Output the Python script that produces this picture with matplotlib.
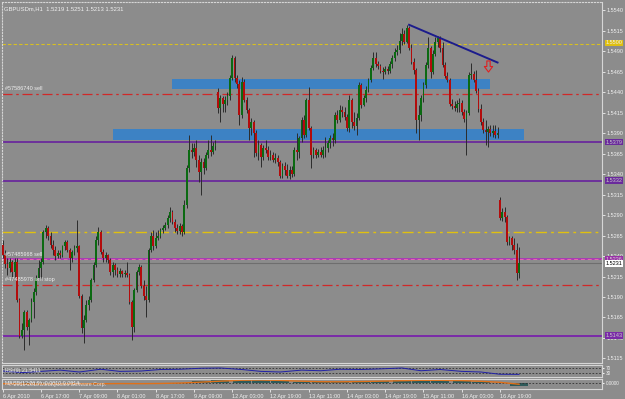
import numpy as np
import matplotlib.pyplot as plt
from matplotlib.path import Path
from matplotlib.patches import Rectangle
import matplotlib.transforms as mtransforms

plt.rcParams['font.family'] = ['Liberation Sans', 'DejaVu Sans']

# GBPUSDm H1 bars, prices as pips above 1.5000
opens_pips = [253, 241, 230, 225, 233, 220, 233, 186, 143, 150, 172, 153, 162, 184, 196, 213, 225, 233, 269, 274,
              264, 253, 247, 240, 244, 241, 252, 257, 247, 237, 245, 250, 252, 191, 152, 162, 180, 186, 211, 229,
              259, 269, 245, 237, 241, 235, 220, 229, 223, 218, 222, 218, 219, 217, 184, 154, 198, 220, 226, 204,
              191, 186, 247, 264, 252, 262, 264, 272, 274, 278, 286, 294, 281, 274, 270, 276, 269, 302, 347, 369,
              367, 372, 357, 342, 355, 347, 363, 369, 367, 374, 440, 420, 433, 425, 430, 435, 457, 481, 457, 450,
              412, 452, 430, 418, 396, 403, 390, 366, 375, 361, 372, 369, 361, 363, 357, 359, 355, 338, 350, 345,
              338, 345, 340, 369, 367, 384, 406, 387, 430, 396, 363, 369, 363, 367, 363, 369, 372, 378, 384, 381,
              412, 406, 418, 416, 409, 396, 430, 403, 398, 408, 449, 424, 433, 442, 455, 469, 481, 474, 472, 466,
              464, 468, 466, 474, 481, 489, 491, 502, 511, 501, 518, 494, 477, 467, 406, 412, 433, 449, 473, 494,
              464, 486, 501, 506, 494, 473, 459, 455, 425, 423, 420, 425, 427, 416, 407, 414, 461, 462, 455, 441,
              419, 403, 394, 391, 395, 390, 392, 387, 308, 286, 294, 287, 257, 262, 253, 247, 219]
closes_pips = [241, 230, 225, 233, 220, 233, 186, 143, 150, 172, 153, 162, 184, 196, 213, 225, 233, 269, 274, 264,
               253, 247, 240, 244, 241, 252, 257, 247, 237, 245, 250, 252, 191, 152, 162, 180, 186, 211, 229, 259,
               269, 245, 237, 241, 235, 220, 229, 223, 218, 222, 218, 219, 217, 184, 154, 198, 220, 226, 204, 191,
               186, 247, 264, 252, 262, 264, 272, 274, 278, 286, 294, 281, 274, 270, 276, 269, 302, 347, 369, 367,
               372, 357, 342, 355, 347, 363, 369, 367, 374, 376, 420, 433, 425, 430, 435, 457, 481, 457, 450, 412,
               452, 430, 418, 396, 403, 390, 366, 375, 361, 372, 369, 361, 363, 357, 359, 355, 338, 350, 345, 338,
               345, 340, 369, 367, 384, 406, 387, 430, 396, 363, 369, 363, 367, 363, 369, 372, 378, 384, 381, 412,
               406, 418, 416, 409, 396, 430, 403, 398, 408, 449, 424, 433, 442, 455, 469, 481, 474, 472, 466, 464,
               468, 466, 474, 481, 489, 491, 502, 511, 501, 518, 494, 477, 467, 406, 412, 433, 449, 473, 494, 464,
               486, 501, 506, 494, 473, 459, 455, 425, 423, 420, 425, 427, 416, 407, 414, 461, 462, 455, 441, 419,
               403, 394, 391, 395, 390, 392, 387, 390, 286, 294, 287, 257, 262, 253, 247, 219, 231]
highs_pips = [259, 247, 237, 237, 235, 237, 237, 189, 158, 174, 174, 164, 189, 201, 217, 235, 237, 272, 278, 276,
              269, 259, 252, 247, 247, 254, 259, 259, 250, 247, 253, 284, 254, 194, 168, 186, 191, 213, 233, 264,
              275, 272, 248, 245, 242, 237, 233, 231, 226, 225, 223, 223, 233, 219, 186, 201, 223, 230, 229, 211,
              204, 250, 269, 272, 269, 272, 274, 278, 281, 290, 300, 296, 285, 279, 280, 279, 308, 351, 387, 378,
              378, 381, 363, 359, 359, 367, 381, 387, 379, 381, 445, 436, 435, 435, 440, 461, 485, 484, 461, 455,
              458, 456, 434, 420, 408, 406, 394, 381, 378, 375, 381, 374, 369, 367, 366, 363, 357, 353, 355, 352,
              350, 350, 373, 390, 386, 409, 412, 433, 446, 398, 373, 372, 370, 373, 374, 385, 381, 387, 390, 416,
              418, 424, 423, 422, 413, 436, 433, 416, 414, 452, 451, 436, 447, 457, 473, 489, 489, 478, 474, 470,
              472, 472, 478, 485, 494, 497, 512, 518, 516, 522, 520, 498, 481, 469, 424, 436, 452, 477, 507, 496,
              491, 507, 508, 508, 501, 477, 464, 457, 431, 429, 430, 433, 430, 419, 418, 464, 475, 466, 467, 445,
              425, 408, 406, 398, 400, 400, 400, 397, 312, 298, 300, 290, 264, 265, 262, 256, 251]
lows_pips = [237, 225, 217, 220, 214, 215, 184, 140, 140, 125, 150, 131, 159, 164, 192, 211, 213, 230, 262, 259,
             250, 241, 235, 237, 237, 239, 247, 245, 223, 233, 241, 245, 189, 146, 134, 159, 174, 184, 208, 226,
             253, 242, 233, 233, 231, 217, 215, 217, 214, 214, 215, 215, 214, 181, 137, 147, 196, 217, 201, 186,
             165, 184, 245, 247, 250, 259, 262, 268, 272, 274, 281, 279, 269, 267, 267, 265, 267, 298, 342, 359,
             362, 348, 330, 314, 340, 345, 359, 362, 364, 369, 414, 403, 416, 416, 424, 430, 455, 452, 445, 400,
             408, 428, 414, 381, 387, 361, 362, 357, 348, 357, 366, 357, 357, 355, 353, 350, 335, 335, 339, 335,
             334, 336, 338, 357, 359, 379, 384, 385, 394, 347, 359, 359, 361, 361, 359, 361, 367, 372, 374, 378,
             402, 403, 409, 406, 392, 391, 396, 394, 387, 406, 420, 423, 428, 440, 452, 467, 470, 468, 463, 456,
             462, 462, 463, 469, 478, 485, 488, 497, 498, 500, 491, 474, 462, 390, 381, 405, 428, 445, 469, 457,
             462, 484, 495, 489, 470, 457, 452, 423, 419, 417, 416, 416, 412, 403, 363, 412, 456, 452, 439, 416,
             400, 390, 375, 373, 386, 385, 384, 384, 284, 283, 281, 254, 253, 247, 242, 211, 213]

# RSI(9) and MACD readings at sampled bars
ind_idx = [0, 8, 16, 24, 32, 41, 49, 58, 66, 74, 83, 91, 100, 108, 116, 125, 133, 141, 150, 158, 167, 175,
           183, 192, 200, 208, 216]
rsi_vals = [48, 35, 45, 55, 40, 62, 45, 48, 60, 62, 70, 72, 60, 45, 40, 55, 50, 62, 60, 65, 72, 50, 60, 45,
            40, 22, 21]
macd_hist = [-5, -10, -8, -3, -6, -4, -2, -5, 0, 5, 20, 30, 40, 35, 25, 15, 12, 15, 20, 25, 30, 35, 30, 25,
             15, 5, -25]
macd_signal = [-4, -7, -8, -6, -5, -5, -3, -4, -2, 2, 12, 22, 32, 34, 30, 22, 16, 15, 18, 22, 27, 31, 31, 28,
               21, 10, -10]

time_labels = ['6 Apr 2010', '6 Apr 17:00', '7 Apr 09:00', '8 Apr 01:00', '8 Apr 17:00', '9 Apr 09:00',
               '12 Apr 03:00', '12 Apr 19:00', '13 Apr 11:00', '14 Apr 03:00', '14 Apr 19:00', '15 Apr 11:00',
               '16 Apr 03:00', '16 Apr 19:00']
label_step = 16

price_ticks = [1.5115, 1.5140, 1.5165, 1.5190, 1.5215, 1.5240, 1.5265, 1.5290, 1.5315, 1.5340, 1.5365,
               1.5390, 1.5415, 1.5440, 1.5465, 1.5490, 1.5515, 1.5540]

# horizontal levels
hl_prices = [1.5499, 1.5269, 1.5438, 1.5379, 1.5332, 1.5236, 1.5231, 1.5205, 1.5143]
hl_colors = ['#d8c020', '#e0c010', '#d02828', '#6a2a9c', '#6a2a9c', '#a83cb4', '#6e6e6e', '#d02828', '#7a2aa8']
hl_styles = [(0, (3, 2)), (0, (8, 3, 2, 3)), (0, (8, 3, 2, 3)), '-', '-', '-', '-', (0, (8, 3, 2, 3)), '-']
hl_widths = [0.8, 1.0, 0.9, 1.3, 1.3, 1.4, 0.8, 0.9, 1.4]

order_labels = ['#57586740 sell', '#57485968 sell', '#47485978 sell stop']
order_prices = [1.5438, 1.5236, 1.5205]

tag_prices = [1.5500, 1.5379, 1.5332, 1.5236, 1.5231, 1.5143]
tag_bg = ['#e0c010', '#6a2a9c', '#6a2a9c', '#9a30a8', '#ffffff', '#7a2aa8']
tag_fg = ['#f0f0f0', '#c8c8c8', '#c8c8c8', '#d0d0d0', '#000000', '#c8c8c8']

# blue zones: left bar, right bar, low price, high price
zone_left = [71, 46]
zone_right = [204, 218]
zone_low = [1.5444, 1.5381]
zone_high = [1.5456, 1.5395]

trend_idx = [170, 207]
trend_price = [1.5522, 1.5476]
arrow_idx = 203
arrow_price = 1.5472

bg = '#8c8c8c'
W, H = 625, 399
fig = plt.figure(figsize=(W / 100, H / 100), dpi=100, facecolor=bg)


def px_axes(x0, y0, x1, y1):
    a = fig.add_axes([x0 / W, 1 - y1 / H, (x1 - x0) / W, (y1 - y0) / H])
    a.set_facecolor(bg)
    for s in a.spines.values():
        s.set_color('#d6d6d6')
        s.set_linewidth(0.8)
    return a


o = 1.5 + np.array(opens_pips) / 1e4
c = 1.5 + np.array(closes_pips) / 1e4
h = 1.5 + np.array(highs_pips) / 1e4
l = 1.5 + np.array(lows_pips) / 1e4
idx = np.arange(len(c))
xlim = (-0.3, 250.7)

ax = px_axes(2, 2, 602, 363)
ax.spines['top'].set_linestyle(':')
ax.spines['left'].set_linestyle(':')
ax.set_xlim(*xlim)
ax.set_ylim(1.51095, 1.55498)

for lo_, hi_, x0, x1 in zip(zone_low, zone_high, zone_left, zone_right):
    ax.add_patch(Rectangle((x0, lo_), x1 - x0, hi_ - lo_, facecolor='#3d82c4', edgecolor='none', zorder=1))

for p, col, ls, lw in zip(hl_prices, hl_colors, hl_styles, hl_widths):
    ax.axhline(p, color=col, ls=ls, lw=lw, zorder=2)
ax.axhline(1.5236, color='#e868b0', ls=(0, (4, 3)), lw=0.7, zorder=2)

up = c >= o
body = np.maximum(np.abs(c - o), 0.00004)
ax.vlines(idx, l, h, color='#2c2c2c', lw=0.7, zorder=3)
ax.bar(idx, body, bottom=np.minimum(o, c), width=0.75,
       color=np.where(up, '#0b6a12', '#b30c0c'), edgecolor='none', zorder=4)

ax.plot(trend_idx, trend_price, color='#1c1c8c', lw=1.4, zorder=5)
arrow = Path([(-0.3, 1), (0.3, 1), (0.3, 0), (0.75, 0), (0, -1), (-0.75, 0), (-0.3, 0), (-0.3, 1)],
             [1, 2, 2, 2, 2, 2, 2, 79])
ax.plot([arrow_idx], [arrow_price], marker=arrow, ms=8, mfc='none', mec='#e02020', mew=0.8, zorder=5)

ax.yaxis.tick_right()
ax.set_yticks(price_ticks)
ax.yaxis.set_major_formatter(plt.FormatStrFormatter('%.4f'))
ax.tick_params(axis='y', colors='#f0f0f0', labelsize=4.0, length=2, width=0.6, pad=1.5)
ax.set_xticks([])

trans = mtransforms.blended_transform_factory(ax.transAxes, ax.transData)
for lab, p in zip(order_labels, order_prices):
    ax.text(0.005, p + 0.0003, lab, transform=trans, color='#eeeeee', fontsize=4.0, va='bottom', zorder=6)
for p, b, f in zip(tag_prices, tag_bg, tag_fg):
    ax.text(1.0055, p, '%.4f' % p, transform=trans, color=f, fontsize=4.0, va='center', ha='left', zorder=7,
            clip_on=False, bbox=dict(boxstyle='square,pad=0.12', fc=b, ec='none'))
ax.text(0.003, 0.988, 'GBPUSDm,H1  1.5219 1.5251 1.5213 1.5231', transform=ax.transAxes,
        color='#f0f0f0', fontsize=4.2, va='top', ha='left')

# RSI panel
ar = px_axes(2, 364.5, 602, 377)
ar.set_xlim(*xlim)
ar.set_ylim(0, 100)
for lv in (30, 70):
    ar.axhline(lv, color='#303030', ls=(0, (2, 2)), lw=0.6)
ar.plot(ind_idx, rsi_vals, color='#2020a8', lw=0.7)
ar.set_xticks([])
ar.yaxis.tick_right()
ar.set_yticks([30, 70])
ar.tick_params(axis='y', colors='#f0f0f0', labelsize=3.3, length=1.5, pad=1)
ar.text(0.005, 0.5, 'RSI(9) 21.5411', transform=ar.transAxes, color='#f0f0f0', fontsize=3.8, va='center')

# MACD panel
am = px_axes(2, 378.5, 602, 389)
am.set_xlim(*xlim)
am.set_ylim(-60, 50)
am.axhline(0, color='#303030', ls=(0, (2, 2)), lw=0.6)
am.bar(ind_idx, macd_hist, width=7.5, color='#2e5a5a', edgecolor='none')
am.plot(ind_idx, macd_signal, color='#e07018', lw=1.0)
am.yaxis.tick_right()
am.set_yticks([0])
am.set_yticklabels(['0.0000'])
am.tick_params(axis='y', colors='#f0f0f0', labelsize=3.3, length=1.5, pad=1)
am.text(0.005, 0.5, 'MACD(12,26,9) -0.0010 0.0014', transform=am.transAxes, color='#f0f0f0',
        fontsize=3.8, va='center')
am.text(0.01, 0.5, '\u00a9 2001-2010 MetaQuotes Software Corp.', transform=am.transAxes, color='#f0f0f0',
        fontsize=3.8, va='center', alpha=0.85)
am.set_xticks(np.arange(len(time_labels)) * label_step)
am.set_xticklabels(time_labels, ha='left')
am.tick_params(axis='x', colors='#f0f0f0', labelsize=4.0, length=2, width=0.6, pad=1.5)

fig.savefig('out.png', dpi=100, facecolor=bg)
